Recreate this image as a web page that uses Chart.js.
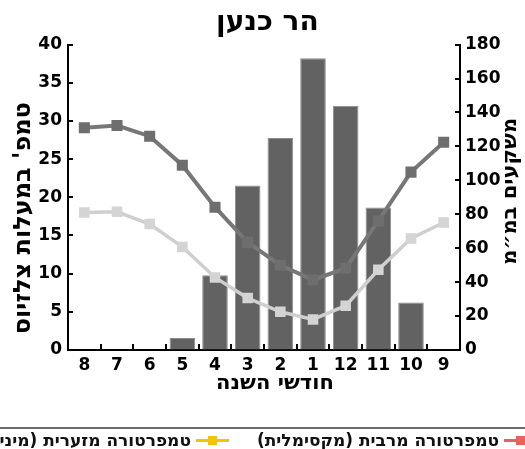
<!DOCTYPE html>
<html lang="he">
<head>
<meta charset="utf-8">
<script src="https://cdn.jsdelivr.net/npm/chart.js@4/dist/chart.umd.min.js"></script>
<style>
    html, body { margin: 0; padding: 0; background: #fff; }
    #wrap { position: relative; width: 525px; height: 449px; overflow: hidden; }
    #chart { position: absolute; left: 0; top: 0; }
    #legend {
        position: absolute; left: 0; top: 427px; width: 525px; height: 22px;
        border-top: 2px solid #6a6a6a; overflow: hidden;
    }
    #legend .row {
        position: absolute; right: -12px; top: 0; height: 22px;
        display: flex; flex-direction: row-reverse; align-items: center;
        white-space: nowrap; direction: ltr;
    }
    #legend .item { display: flex; flex-direction: row-reverse; align-items: center; margin-left: 28px; }
    #legend .mark { position: relative; width: 33px; height: 3px; margin-left: 5px; }
    #legend .mark i { position: absolute; left: 12px; top: -3px; width: 9px; height: 9px; }
    #legend .txt { font: bold 17px "DejaVu Sans", sans-serif; color: #111; direction: rtl; }
</style>
</head>
<body>
<div id="wrap">
    <canvas id="chart" width="525" height="449"></canvas>
    <div id="legend"><div class="row" id="legend-row"></div></div>
</div>
<script>
// -----------------------------
// Data (months run right-to-left)
// -----------------------------
const months = ["8", "7", "6", "5", "4", "3", "2", "1", "12", "11", "10", "9"];
const rainMm = [0, 0, 0, 7, 44, 97, 125, 172, 144, 84, 28, 0.5];
const tempMax = [29.1, 29.4, 28.0, 24.2, 18.7, 14.1, 11.1, 9.2, 10.7, 16.9, 23.3, 27.2];
const tempMin = [18.0, 18.1, 16.5, 13.5, 9.5, 6.8, 5.0, 4.0, 5.8, 10.5, 14.6, 16.7];

const chartTitle = "הר כנען";
const xTitle = "חודשי השנה";
const tempTitle = "טמפ' במעלות צלזיוס";
const rainTitle = "משקעים במ״מ";
const legendItems = [
    { text: "טמפרטורה מרבית (מקסימלית)", color: "#e8625e" },
    { text: "טמפרטורה מזערית (מינימלית)", color: "#f4c400" }
];

const tickFont = { family: "DejaVu Sans", size: 17, weight: "bold" };

// -----------------------------
// Inward tick marks + right title read bottom-to-top
// -----------------------------
const axisExtras = {
    id: "axisExtras",
    afterDraw(chart) {
        const ctx = chart.ctx;
        const area = chart.chartArea;
        const { x, y, y1 } = chart.scales;
        ctx.save();
        ctx.strokeStyle = "#000";
        ctx.lineWidth = 2;
        ctx.beginPath();
        y.ticks.forEach((t, i) => {
            const py = Math.round(y.getPixelForTick(i));
            ctx.moveTo(area.left, py);
            ctx.lineTo(area.left + 5, py);
        });
        y1.ticks.forEach((t, i) => {
            const py = Math.round(y1.getPixelForTick(i));
            ctx.moveTo(area.right, py);
            ctx.lineTo(area.right - 5, py);
        });
        for (let i = 1; i < months.length; i++) {
            const px = Math.round((x.getPixelForValue(i - 1) + x.getPixelForValue(i)) / 2);
            ctx.moveTo(px, area.bottom);
            ctx.lineTo(px, area.bottom - 6);
        }
        ctx.stroke();

        ctx.translate(y1.right - 14, (area.top + area.bottom) / 2 - 6);
        ctx.rotate(-Math.PI / 2);
        ctx.font = "bold 21px 'DejaVu Sans'";
        ctx.fillStyle = "#000";
        ctx.textAlign = "center";
        ctx.textBaseline = "middle";
        ctx.fillText(rainTitle, 0, 0);
        ctx.restore();
    }
};

const ctx = document.getElementById("chart").getContext("2d");
new Chart(ctx, {
    type: "bar",
    data: {
        labels: months,
        datasets: [
            {
                type: "line", label: "max", data: tempMax, yAxisID: "y", order: 1,
                borderColor: "#777", borderWidth: 4, tension: 0,
                pointStyle: "rect", pointRadius: 5, pointBackgroundColor: "#6e6e6e", pointBorderColor: "#6e6e6e"
            },
            {
                type: "line", label: "min", data: tempMin, yAxisID: "y", order: 2,
                borderColor: "#cfcfcf", borderWidth: 3.5, tension: 0,
                pointStyle: "rect", pointRadius: 5, pointBackgroundColor: "#d4d4d4", pointBorderColor: "#d4d4d4"
            },
            {
                label: "rain", data: rainMm, yAxisID: "y1", order: 3,
                backgroundColor: "#626262", borderColor: "#8c8c8c", borderWidth: 1,
                barPercentage: 0.87, categoryPercentage: 0.9
            }
        ]
    },
    options: {
        responsive: false,
        animation: false,
        layout: { padding: { top: 0, bottom: 49, left: 0, right: 0 } },
        plugins: {
            legend: { display: false },
            tooltip: { enabled: false },
            title: {
                display: true, text: " " + chartTitle, color: "#000",
                font: { family: "DejaVu Sans", size: 28, weight: "bold" },
                padding: { top: 6, bottom: 5 }
            }
        },
        scales: {
            x: {
                grid: { drawOnChartArea: false, drawTicks: false },
                border: { color: "#000", width: 2 },
                ticks: { color: "#000", font: tickFont, padding: 5, maxRotation: 0 },
                title: {
                    display: true, text: "   " + xTitle, color: "#000",
                    font: { family: "DejaVu Sans", size: 21, weight: "bold" }, padding: { top: 0, bottom: 4 }
                },
                afterFit(scale) { scale.height = 50; }
            },
            y: {
                position: "left", min: 0, max: 40,
                grid: { drawOnChartArea: false, drawTicks: false },
                border: { color: "#000", width: 2 },
                ticks: { stepSize: 5, color: "#000", font: tickFont, padding: 6 },
                title: {
                    display: true, text: tempTitle + "     ", color: "#000",
                    font: { family: "DejaVu Sans", size: 24, weight: "bold" }, padding: { top: 9 }
                },
                afterFit(scale) { scale.width = 68; }
            },
            y1: {
                position: "right", min: 0, max: 180,
                grid: { drawOnChartArea: false, drawTicks: false },
                border: { color: "#000", width: 2 },
                ticks: { stepSize: 20, color: "#000", font: tickFont, padding: 5 },
                afterFit(scale) { scale.width = 65; }
            }
        }
    },
    plugins: [axisExtras]
});

// -----------------------------
// Legend (runs off the left edge like the original)
// -----------------------------
const legendRow = document.getElementById("legend-row");
legendItems.forEach(item => {
    legendRow.innerHTML += `
        <div class="item">
            <span class="mark" style="background:${item.color}"><i style="background:${item.color}"></i></span>
            <span class="txt">${item.text}</span>
        </div>`;
});
</script>
</body>
</html>
